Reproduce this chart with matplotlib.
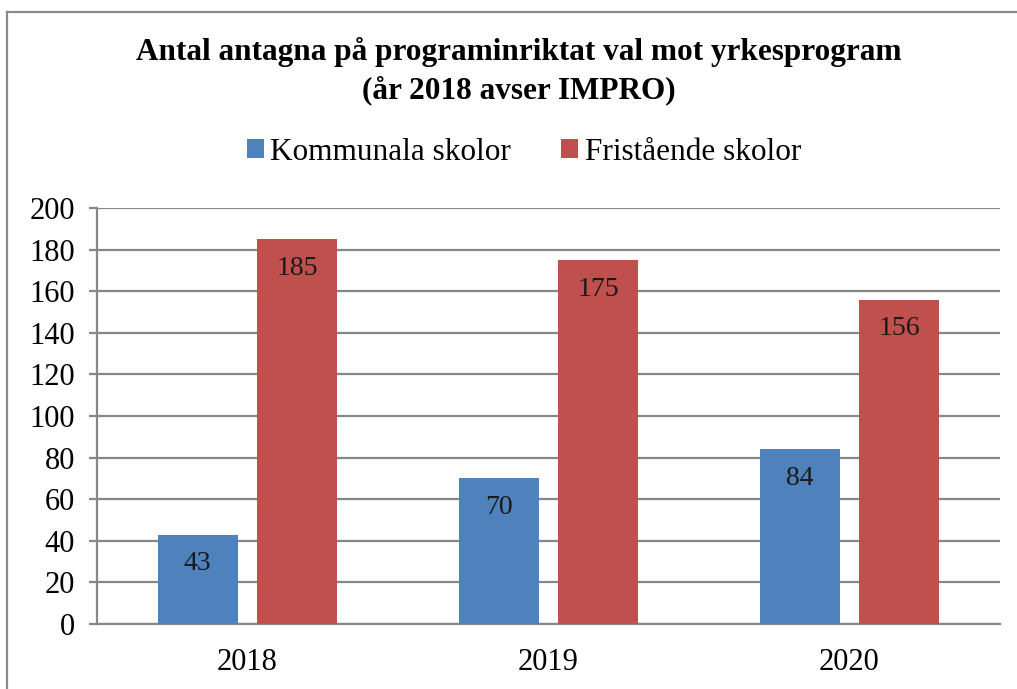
import matplotlib
matplotlib.use("Agg")
import matplotlib.pyplot as plt
import numpy as np
from matplotlib.lines import Line2D

years = ["2018", "2019", "2020"]
kommunala = [43, 70, 84]
fristaende = [185, 175, 156]
series_names = ["Kommunala skolor", "Fristående skolor"]
yticks = [0, 20, 40, 60, 80, 100, 120, 140, 160, 180, 200]

plt.rcParams['font.family'] = ['Liberation Serif', 'DejaVu Serif']

fig = plt.figure(figsize=(10.17, 6.89), dpi=100)
ax = fig.add_axes([97/1017, 1-624/689, (1000-97)/1017, (624-208)/689])

grid_c = "#878787"
x = np.arange(len(years))
w = 0.266
off = 0.166
b1 = ax.bar(x - off, kommunala, w, color="#4F81BD", label=series_names[0], zorder=3)
b2 = ax.bar(x + off, fristaende, w, color="#C0504D", label=series_names[1], zorder=3)

for bars, vals in ((b1, kommunala), (b2, fristaende)):
    for r, v in zip(bars, vals):
        ax.annotate(str(v), (r.get_x() + r.get_width()/2, v), xytext=(0, -21),
                    textcoords="offset points", ha="center", va="center",
                    fontsize=20, color="#1a1a1a", zorder=4)

ax.set_xlim(-0.5, 2.5)
ax.set_ylim(0, 200)
ax.set_yticks(yticks)
ax.set_xticks(x)
ax.set_xticklabels(years)
ax.yaxis.grid(True, color=grid_c, linewidth=1.6, zorder=0)
ax.set_axisbelow(True)
for s in ["top", "right"]:
    ax.spines[s].set_visible(False)
ax.spines["left"].set_color(grid_c)
ax.spines["left"].set_linewidth(1.6)
ax.spines["bottom"].set_color(grid_c)
ax.spines["bottom"].set_linewidth(1.6)
ax.tick_params(axis="y", length=6, width=1.6, color=grid_c, labelsize=22, pad=10)
ax.tick_params(axis="x", length=0, labelsize=22, pad=17)

fig.text(519/1017, 1-52/689, "Antal antagna på programinriktat val mot yrkesprogram",
         ha="center", va="center", fontsize=22.5, fontweight="bold")
fig.text(519/1017, 1-90/689, "(år 2018 avser IMPRO)",
         ha="center", va="center", fontsize=22.5, fontweight="bold")

fig.legend(handles=[b1, b2], loc="center", bbox_to_anchor=(524/1017, 1-152/689),
           ncol=2, frameon=False, fontsize=22.5, handlelength=0.55, handleheight=0.55,
           handletextpad=0.2, columnspacing=1.6)

fig.add_artist(Line2D([7/1017, 7/1017], [0, 1-12/689], color="#8a8a8a", linewidth=1.6,
                      transform=fig.transFigure))
fig.add_artist(Line2D([7/1017, 1], [1-12/689, 1-12/689], color="#8a8a8a", linewidth=1.6,
                      transform=fig.transFigure))

fig.savefig("out.png", dpi=100)
